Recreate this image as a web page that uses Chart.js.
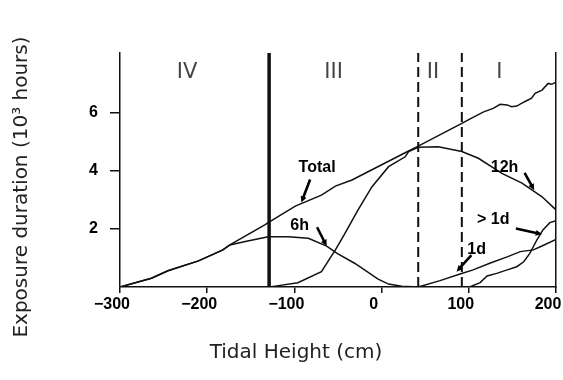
<!DOCTYPE html>
<html>
<head>
<meta charset="utf-8">
<script src="https://cdn.jsdelivr.net/npm/chart.js@4.4.0/dist/chart.umd.min.js"></script>
<style>
  html, body { margin: 0; padding: 0; background: #fff; }
  #wrap { width: 563px; height: 380px; }
</style>
</head>
<body>
<div id="wrap"><canvas id="chart" width="563" height="380"></canvas></div>
<script>
// exposure duration (10^3 hours) vs tidal height (cm)
const totalX = [-300, -264, -245, -210, -182, -174, -134, -130, -99, -69, -53, -34, 27, 42, 92, 101, 117, 128, 136, 144, 149, 155, 164, 172, 176, 184, 191, 195, 200];
const totalY = [0, 0.30, 0.56, 0.90, 1.28, 1.45, 2.14, 2.22, 2.79, 3.17, 3.48, 3.69, 4.63, 4.86, 5.64, 5.79, 6.04, 6.16, 6.30, 6.28, 6.22, 6.24, 6.39, 6.51, 6.68, 6.79, 7.02, 6.99, 7.06];

const h6X = [-300, -264, -245, -210, -182, -174, -155, -134, -130, -107, -84, -63, -51, -31, -4, 8, 23, 42];
const h6Y = [0, 0.30, 0.56, 0.90, 1.28, 1.45, 1.58, 1.71, 1.73, 1.73, 1.68, 1.41, 1.16, 0.82, 0.27, 0.10, 0.03, 0];

const h12X = [-129, -122, -96, -69, -53, -42, -27, -11, 8, 27, 31, 42, 65, 92, 111, 138, 161, 184, 200];
const h12Y = [0, 0.03, 0.15, 0.53, 1.28, 1.85, 2.66, 3.46, 4.15, 4.49, 4.67, 4.82, 4.84, 4.67, 4.44, 3.92, 3.58, 3.11, 2.66];

const d1X = [42, 67, 90, 105, 124, 144, 159, 174, 182, 200];
const d1Y = [0, 0.22, 0.45, 0.59, 0.82, 1.04, 1.22, 1.28, 1.39, 1.64];

const dMoreX = [92, 101, 113, 121, 132, 144, 155, 163, 170, 178, 185, 193, 200];
const dMoreY = [0, 0, 0.15, 0.38, 0.47, 0.59, 0.70, 0.87, 1.16, 1.62, 1.97, 2.22, 2.29];

// zone boundaries and names
const zoneBounds = [-129, 42, 92];
const zoneNames = ['IV', 'III', 'II', 'I'];
const zoneCenters = [-223, -55, 59, 135];
const zoneLabelY = 7.41;

// curve labels with arrows (data coordinates)
const noteText = ['Total', '6h', '12h', '> 1d', '1d'];
const noteX = [-74, -94, 141, 128, 109];
const noteY = [4.13, 2.11, 4.13, 2.31, 1.28];
const arrowFromX = [-82, -74, 164, 154, 103];
const arrowFromY = [3.71, 2.06, 3.94, 2.02, 1.10];
const arrowToX = [-92, -63, 175, 184, 86];
const arrowToY = [2.91, 1.41, 3.34, 1.82, 0.53];

const xTicks = [-300, -200, -100, 0, 100, 200];
const yTicks = [2, 4, 6];
const yMax = 8.07;

const pts = (xs, ys) => xs.map((x, i) => ({ x: x, y: ys[i] }));

const curve = (label, xs, ys) => ({
  label: label,
  data: pts(xs, ys),
  borderColor: '#111',
  borderWidth: 1.5,
  pointRadius: 0,
  showLine: true,
  tension: 0
});

const bound = (x, i) => ({
  label: 'bound' + i,
  data: [{ x: x, y: 0 }, { x: x, y: yMax }],
  borderColor: '#111',
  borderWidth: i === 0 ? 3.5 : 2,
  borderDash: i === 0 ? [] : [10, 5],
  pointRadius: 0,
  showLine: true
});

const decor = {
  id: 'decor',
  afterDatasetsDraw(chart) {
    const ctx = chart.ctx;
    const sx = chart.scales.x, sy = chart.scales.y;
    ctx.save();
    // zone names
    ctx.fillStyle = '#444';
    ctx.font = '21px "DejaVu Sans"';
    ctx.textAlign = 'center';
    ctx.textBaseline = 'middle';
    zoneNames.forEach((n, i) => {
      ctx.fillText(n, sx.getPixelForValue(zoneCenters[i]), sy.getPixelForValue(zoneLabelY));
    });
    // curve notes
    ctx.fillStyle = '#000';
    ctx.font = 'bold 16px "Liberation Sans"';
    noteText.forEach((t, i) => {
      ctx.fillText(t, sx.getPixelForValue(noteX[i]), sy.getPixelForValue(noteY[i]));
      const x1 = sx.getPixelForValue(arrowFromX[i]), y1 = sy.getPixelForValue(arrowFromY[i]);
      const x2 = sx.getPixelForValue(arrowToX[i]), y2 = sy.getPixelForValue(arrowToY[i]);
      const a = Math.atan2(y2 - y1, x2 - x1);
      const hl = 7;
      ctx.strokeStyle = '#000';
      ctx.lineWidth = 2.6;
      ctx.beginPath();
      ctx.moveTo(x1, y1);
      ctx.lineTo(x2 - Math.cos(a) * hl * 0.7, y2 - Math.sin(a) * hl * 0.7);
      ctx.stroke();
      ctx.beginPath();
      ctx.moveTo(x2, y2);
      ctx.lineTo(x2 - hl * Math.cos(a - 0.45), y2 - hl * Math.sin(a - 0.45));
      ctx.lineTo(x2 - hl * Math.cos(a + 0.45), y2 - hl * Math.sin(a + 0.45));
      ctx.closePath();
      ctx.fill();
    });
    // axis titles
    ctx.fillStyle = '#222';
    ctx.font = '20px "DejaVu Sans"';
    ctx.fillText('Tidal Height (cm)', 296, 353);
    ctx.translate(22, 187);
    ctx.rotate(-Math.PI / 2);
    ctx.fillText('Exposure duration (10\u00B3 hours)', 0, 0);
    ctx.restore();
  }
};

new Chart(document.getElementById('chart').getContext('2d'), {
  type: 'scatter',
  data: {
    datasets: [
      curve('Total', totalX, totalY),
      curve('6h', h6X, h6Y),
      curve('12h', h12X, h12Y),
      curve('1d', d1X, d1Y),
      curve('>1d', dMoreX, dMoreY)
    ].concat(zoneBounds.map(bound))
  },
  options: {
    responsive: false,
    animation: false,
    layout: { padding: { top: 53, left: 0, right: 0, bottom: 0 } },
    plugins: { legend: { display: false }, tooltip: { enabled: false } },
    scales: {
      x: {
        type: 'linear',
        min: -300,
        max: 200,
        afterFit: (s) => { s.height = 93; s.paddingLeft = 0; s.paddingRight = 0; },
        afterBuildTicks: (s) => { s.ticks = xTicks.map((v) => ({ value: v })); },
        border: { color: '#111', width: 1.5 },
        grid: { drawOnChartArea: false, tickLength: 6, color: '#111', lineWidth: 1.5 },
        ticks: {
          color: '#000',
          padding: 2,
          labelOffset: -8,
          font: { family: '"Liberation Sans"', size: 16, weight: 'bold' },
          callback: (v) => (v < 0 ? '\u2212' + Math.abs(v) : String(v))
        }
      },
      y: {
        min: 0,
        max: yMax,
        afterFit: (s) => { s.width = 120; s.paddingTop = 0; s.paddingBottom = 0; },
        afterBuildTicks: (s) => { s.ticks = yTicks.map((v) => ({ value: v })); },
        border: { color: '#111', width: 1.5 },
        grid: { drawOnChartArea: false, tickLength: 10, color: '#111', lineWidth: 1.5 },
        ticks: {
          color: '#000',
          padding: 12,
          font: { family: '"Liberation Sans"', size: 16, weight: 'bold' }
        }
      },
      y2: {
        position: 'right',
        min: 0,
        max: yMax,
        afterFit: (s) => { s.width = 7; },
        border: { color: '#111', width: 1.5 },
        grid: { display: false },
        ticks: { display: false }
      }
    }
  },
  plugins: [decor]
});
</script>
</body>
</html>
